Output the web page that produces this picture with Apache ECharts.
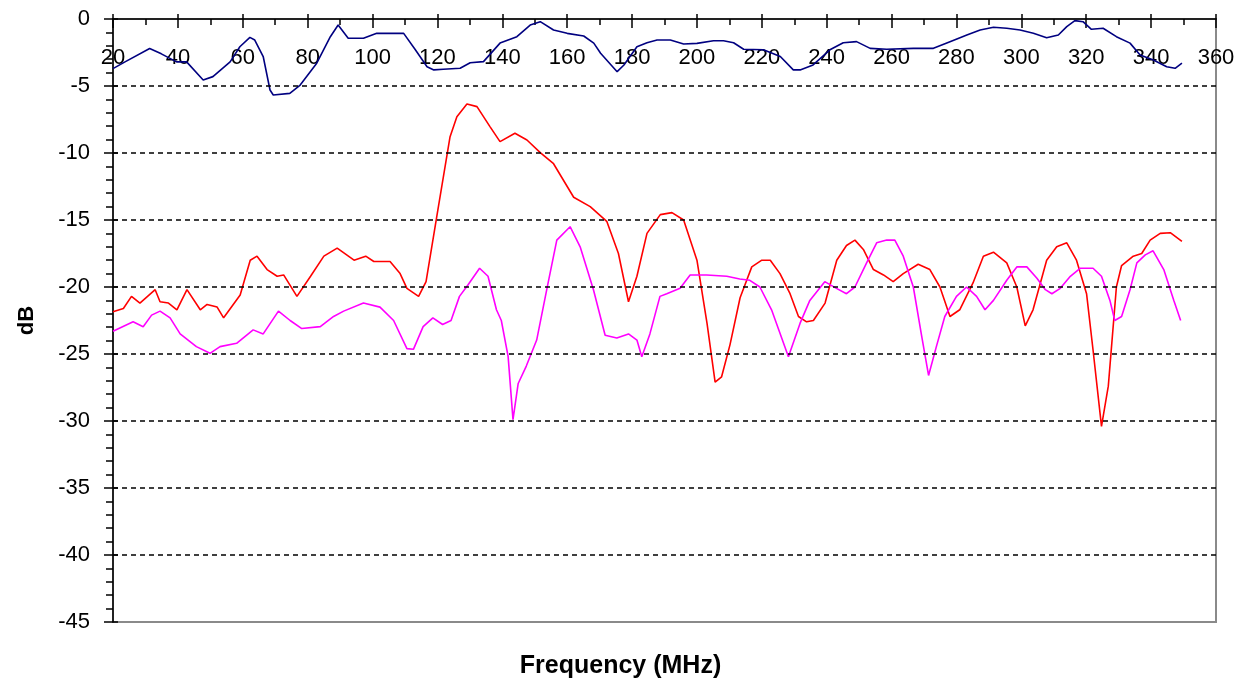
<!DOCTYPE html>
<html>
<head>
<meta charset="utf-8">
<script src="https://cdn.jsdelivr.net/npm/echarts@6/dist/echarts.min.js"></script>
<style>
html,body{margin:0;padding:0;background:#fff;}
#chart{width:1241px;height:683px;}
</style>
</head>
<body>
<div id="chart"></div>
<script>
// ---- data ----
const xTicks = {min: 20, max: 360, step: 20};
const yTicks = {min: -45, max: 0, step: 5};
const dashLevels = [-5, -10, -15, -20, -25, -30, -35, -40];

const blueFreq = [20,23.7,31.3,34.9,39.6,42.7,47.8,50.8,56.1,59.1,62.2,63.7,66.3,68.4,69.4,74.5,77.7,82.8,87,89.4,92.5,97.2,101.3,105.4,109.6,113.2,116.8,118.9,121.8,127,130.1,134.2,139.3,144.5,148.6,151.7,155.8,160,165.1,168.2,170.3,175.4,177.5,181.5,184.6,187.7,191.8,195.9,200,205.1,208.2,211.3,214.4,220.5,225.7,229.7,231.8,235.8,241,245.1,249.2,253.4,258.5,266.7,272.9,278,283.2,287.3,291.4,295.5,299.6,303.7,307.8,311.4,314,316.5,319,321.6,325.2,329.3,333.5,336.6,340.7,344.8,347.4,349.5];
const blueDb = [-3.7,-3.2,-2.2,-2.6,-3.2,-3.2,-4.55,-4.3,-3.2,-2.07,-1.37,-1.57,-2.8,-5.3,-5.67,-5.55,-4.93,-3.3,-1.32,-0.45,-1.44,-1.44,-1.07,-1.07,-1.07,-2.3,-3.56,-3.8,-3.75,-3.68,-3.26,-3.18,-1.8,-1.32,-0.45,-0.2,-0.82,-1.07,-1.27,-1.8,-2.56,-3.93,-3.43,-2.07,-1.77,-1.57,-1.57,-1.87,-1.82,-1.62,-1.62,-1.77,-2.26,-2.3,-2.8,-3.8,-3.8,-3.43,-2.3,-1.77,-1.69,-2.19,-2.26,-2.19,-2.19,-1.69,-1.19,-0.82,-0.62,-0.69,-0.82,-1.07,-1.4,-1.19,-0.57,-0.12,-0.2,-0.77,-0.69,-1.32,-1.8,-2.69,-3.06,-3.56,-3.68,-3.3];

const redFreq = [20,23.2,25.7,28.3,33,34.5,37.1,39.7,42.8,46.9,49,52.1,54.1,59.2,62.3,64.4,67.5,70.6,72.6,76.7,80.9,85,89.1,94.3,97.9,100.4,105.4,108.5,110.6,114.2,116.5,119.8,123.9,126,129.1,132.2,136.2,139.3,143.9,147.6,151.7,155.8,162,167.1,172.2,175.8,178.9,181.5,184.6,188.7,192.3,195.9,200,203.1,205.6,207.6,210.2,213.3,216.9,220,222.6,225.6,228.7,231.3,233.8,235.9,239.5,243.1,246.1,248.7,251.3,254.4,257.5,260.5,263.6,268.2,271.8,274.9,278,281,285.1,288.3,291.4,295.5,298.6,301.2,303.6,307.8,310.9,314,317,320.1,322.1,324.7,326.8,329.3,330.9,334.5,337.1,339.7,342.8,345.9,349.5];
const redDb = [-21.84,-21.6,-20.7,-21.2,-20.2,-21.1,-21.2,-21.7,-20.2,-21.7,-21.3,-21.5,-22.3,-20.6,-18.0,-17.7,-18.7,-19.2,-19.1,-20.7,-19.2,-17.7,-17.1,-18.0,-17.7,-18.1,-18.1,-19.0,-20.1,-20.7,-19.6,-14.75,-8.78,-7.29,-6.34,-6.54,-8.03,-9.15,-8.53,-9.03,-9.97,-10.8,-13.3,-14.0,-15.1,-17.5,-21.1,-19.2,-16.0,-14.6,-14.45,-15.0,-18.0,-22.7,-27.1,-26.7,-24.3,-20.8,-18.5,-18.0,-18.0,-19.0,-20.5,-22.2,-22.6,-22.5,-21.2,-18.0,-16.9,-16.5,-17.2,-18.7,-19.1,-19.6,-19.0,-18.3,-18.7,-20.0,-22.2,-21.7,-19.7,-17.7,-17.4,-18.2,-20.0,-22.9,-21.7,-18.0,-17.0,-16.7,-18.0,-20.5,-24.7,-30.4,-27.4,-20.0,-18.4,-17.7,-17.5,-16.5,-16.0,-15.95,-16.6];

const magFreq = [20,26.2,29.3,31.9,34.5,37.6,40.7,45.7,49.9,53,58.1,63.2,66.3,71,74.6,78.2,83.9,88,91.1,97.2,102.3,106.5,110.6,112.6,115.6,118.6,121.6,124.2,126.8,129.4,133,135.6,138.2,139.7,141.8,143.3,144.9,147.4,150.6,153.7,156.8,160.9,164,168.1,171.7,175.3,178.9,181.5,183,185.5,188.6,190.7,194.8,197.9,203,209.2,213.2,216.3,219.4,223,228.2,231.8,234.8,239.4,243,246.1,248.7,252.3,255.4,258.5,261,263.6,266.7,269.3,271.4,273.8,276.4,280,283.1,286.2,288.8,291.4,295.5,298.6,301.7,304.8,307.4,309.4,312,315.1,318.2,322.1,324.7,327.3,328.8,330.9,333.5,335.6,338.2,340.6,343.9,347,349.1];
const magDb = [-23.3,-22.6,-22.96,-22.1,-21.8,-22.3,-23.5,-24.45,-24.95,-24.45,-24.2,-23.2,-23.5,-21.8,-22.5,-23.1,-22.96,-22.2,-21.8,-21.2,-21.5,-22.5,-24.6,-24.65,-22.96,-22.3,-22.8,-22.5,-20.7,-19.85,-18.6,-19.2,-21.7,-22.5,-25.2,-29.9,-27.2,-25.9,-23.96,-20.2,-16.5,-15.5,-17.0,-20.2,-23.6,-23.8,-23.5,-23.96,-25.2,-23.5,-20.7,-20.5,-20.1,-19.1,-19.1,-19.2,-19.4,-19.5,-20.0,-21.7,-25.2,-22.7,-21.0,-19.6,-20.1,-20.5,-20.0,-18.2,-16.7,-16.5,-16.5,-17.7,-20.0,-23.7,-26.6,-24.45,-22.2,-20.7,-20.0,-20.7,-21.7,-21.0,-19.5,-18.5,-18.5,-19.35,-20.2,-20.5,-20.1,-19.2,-18.6,-18.6,-19.2,-21.0,-22.5,-22.2,-20.2,-18.2,-17.6,-17.3,-18.7,-21.0,-22.5];

const xName = 'Frequency (MHz)';
const yName = 'dB';

function zip(a, b) { return a.map((v, i) => [v, b[i]]); }

const FONT = '"Liberation Sans", Arial, sans-serif';
const chart = echarts.init(document.getElementById('chart'), null, {renderer: 'canvas'});

const lineSeries = (name, f, d, color, extra) => Object.assign({
  name, type: 'line', data: zip(f, d), showSymbol: false, symbol: 'none',
  lineStyle: {color, width: 1.6}, itemStyle: {color}, z: 3, silent: true
}, extra || {});

chart.setOption({
  animation: false,
  backgroundColor: '#ffffff',
  title: {
    text: xName, left: 'center', top: 649,
    textStyle: {fontFamily: FONT, fontSize: 25, fontWeight: 'bold', color: '#000'}
  },
  grid: {
    left: 113, right: 25, top: 19, bottom: 61,
    show: true, borderColor: '#8a8a8a', borderWidth: 2, backgroundColor: 'transparent'
  },
  xAxis: [{
    type: 'value', min: xTicks.min, max: xTicks.max, interval: xTicks.step,
    position: 'top',
    axisLine: {show: true, lineStyle: {color: '#000', width: 1.5}},
    axisTick: {show: true, inside: false, length: 5, lineStyle: {color: '#000', width: 1.5}},
    axisLabel: {inside: true, margin: 28, fontFamily: FONT, fontSize: 22, color: '#000', showMinLabel: true, showMaxLabel: true},
    splitLine: {show: false}
  }, {
    type: 'value', min: xTicks.min, max: xTicks.max, interval: xTicks.step,
    position: 'top', offset: 0,
    axisLine: {show: false},
    axisTick: {show: true, inside: true, length: 9, lineStyle: {color: '#000', width: 1.5}},
    minorTick: {show: true, splitNumber: 2, length: 6, lineStyle: {color: '#000', width: 1.5}},
    axisLabel: {show: false},
    splitLine: {show: false}
  }],
  yAxis: [{
    type: 'value', min: yTicks.min, max: yTicks.max, interval: yTicks.step,
    name: yName, nameLocation: 'middle', nameRotate: 90, nameGap: 75,
    nameTextStyle: {fontFamily: FONT, fontSize: 22, fontWeight: 'bold', color: '#000'},
    axisLine: {show: true, lineStyle: {color: '#000', width: 1.5}},
    axisTick: {show: true, inside: false, length: 9, lineStyle: {color: '#000', width: 1.5}},
    minorTick: {show: true, splitNumber: 5, length: 7, lineStyle: {color: '#000', width: 1.5}},
    axisLabel: {margin: 23, fontFamily: FONT, fontSize: 22, color: '#000'},
    splitLine: {show: false}
  }, {
    type: 'value', min: yTicks.min, max: yTicks.max, interval: yTicks.step,
    position: 'left', offset: 0,
    axisLine: {show: false},
    axisTick: {show: true, inside: true, length: 5, lineStyle: {color: '#000', width: 1.5}},
    axisLabel: {show: false},
    splitLine: {show: false}
  }],
  series: [
    lineSeries('Upper', blueFreq, blueDb, '#000080', {
      markLine: {
        silent: true, symbol: 'none', label: {show: false}, animation: false,
        lineStyle: {color: '#000', type: [5, 4], width: 1.5},
        data: dashLevels.map(v => ({yAxis: v}))
      }
    }),
    lineSeries('Red', redFreq, redDb, '#ff0000'),
    lineSeries('Magenta', magFreq, magDb, '#ff00ff')
  ]
});
</script>
</body>
</html>
